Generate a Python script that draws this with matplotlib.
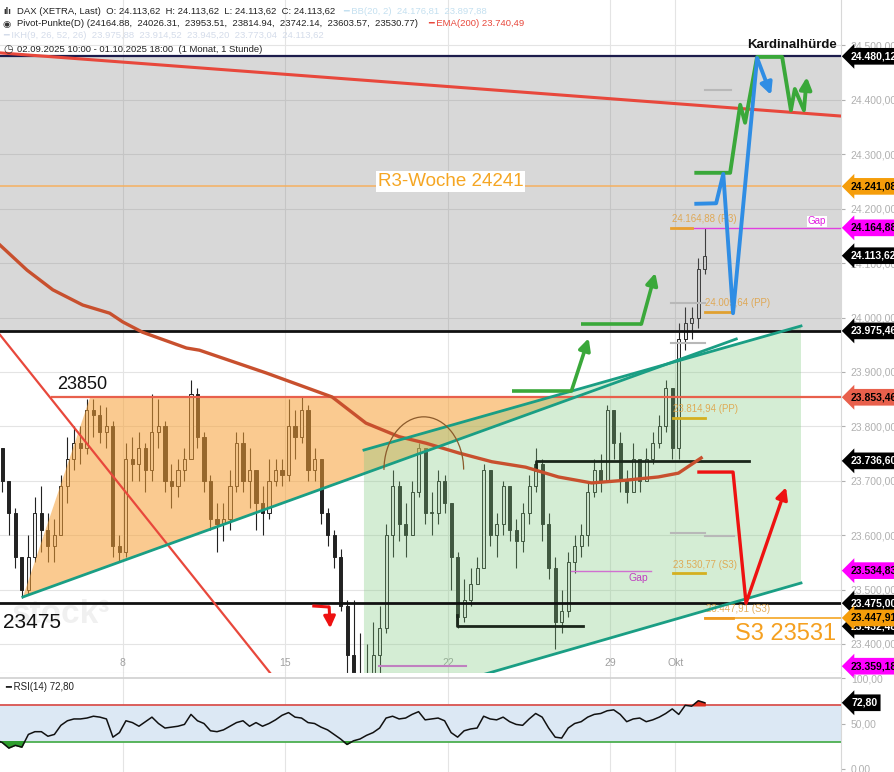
import matplotlib
matplotlib.use("Agg")
import matplotlib.pyplot as plt
import matplotlib.transforms as mtransforms
from matplotlib.patches import Polygon, Arc
from matplotlib.ticker import FuncFormatter

plt.rcParams['font.family'] = ['Liberation Sans', 'DejaVu Sans']

# x axis = trading days, 0 = Mon 8 Sep 2025; 5 bars per day starting Tue 2 Sep
first_day = -4
bars_per_day = 5
day_ticks = [0, 5, 10, 15, 17]
day_labels = ["8", "15", "22", "29", "Okt"]

close = [23760, 23700, 23640, 23560, 23500,  23560, 23640, 23610, 23580, 23600,
         23690, 23740, 23770, 23760, 23830,  23820, 23790, 23800, 23580, 23570,
         23740, 23730, 23760, 23720, 23790,  23800, 23700, 23690, 23720, 23740,
         23860, 23780, 23700, 23630, 23620,  23630, 23690, 23770, 23700, 23720,
         23660, 23640, 23700, 23720, 23710,  23800, 23780, 23830, 23720, 23740,
         23640, 23600, 23560, 23470, 23380,  23340, 23300, 23330, 23380, 23430,
         23600, 23690, 23620, 23600, 23680,  23760, 23640, 23640, 23700, 23660,
         23560, 23450, 23480, 23510, 23540,  23720, 23600, 23620, 23690, 23610,
         23590, 23640, 23690, 23730, 23620,  23540, 23440, 23460, 23550, 23580,
         23600, 23680, 23720, 23700, 23830,  23770, 23700, 23680, 23740, 23700,
         23740, 23770, 23800, 23870, 23760,  23960, 23990, 24000, 24090, 24113.62]
high = [23790, 23760, 23700, 23650, 23560,  23600, 23670, 23690, 23640, 23630,
        23710, 23780, 23800, 23800, 23850,  23850, 23840, 23835, 23810, 23600,
        23770, 23780, 23790, 23770, 23860,  23850, 23810, 23730, 23740, 23760,
        23885, 23870, 23790, 23710, 23660,  23660, 23720, 23790, 23790, 23760,
        23720, 23690, 23740, 23740, 23740,  23850, 23830, 23855, 23840, 23760,
        23720, 23650, 23610, 23575, 23480,  23480, 23420, 23400, 23440, 23470,
        23620, 23720, 23700, 23660, 23700,  23770, 23760, 23680, 23720, 23710,
        23600, 23570, 23520, 23540, 23560,  23730, 23720, 23640, 23700, 23690,
        23630, 23660, 23710, 23760, 23740,  23640, 23560, 23500, 23570, 23600,
        23620, 23700, 23740, 23750, 23840,  23820, 23790, 23720, 23770, 23740,
        23760, 23790, 23820, 23885, 23870,  23990, 24020, 24020, 24110, 24165]
low = [23740, 23680, 23600, 23540, 23485,  23490, 23550, 23570, 23550, 23550,
       23600, 23660, 23720, 23730, 23750,  23780, 23770, 23760, 23560, 23550,
       23560, 23700, 23700, 23680, 23700,  23760, 23680, 23650, 23670, 23700,
       23740, 23760, 23680, 23610, 23570,  23590, 23610, 23680, 23680, 23650,
       23610, 23600, 23630, 23690, 23690,  23700, 23740, 23770, 23700, 23700,
       23620, 23580, 23540, 23460, 23300,  23280, 23250, 23260, 23300, 23340,
       23420, 23560, 23590, 23560, 23600,  23670, 23620, 23600, 23620, 23640,
       23500, 23430, 23440, 23470, 23510,  23540, 23580, 23560, 23600, 23590,
       23540, 23570, 23620, 23680, 23590,  23520, 23390, 23420, 23450, 23530,
       23560, 23580, 23670, 23680, 23700,  23740, 23680, 23660, 23680, 23680,
       23700, 23730, 23760, 23790, 23740,  23740, 23940, 23960, 23980, 24080]
rsi = [32, 29, 23, 26, 24,  38, 41, 41, 36, 38,  48, 53, 55, 55, 56,  58, 57, 55, 35, 40,
       53, 51, 47, 52, 57,  50, 45, 46, 47, 49,  60, 53, 50, 42, 41,  43, 47, 51, 53, 47,
       51, 47, 50, 54, 59,  62, 57, 56, 51, 50,  46, 43, 38, 33, 27,  31, 33, 37, 40, 45,
       56, 58, 55, 56, 60,  63, 54, 55, 56, 53,  40, 35, 42, 44, 45,  58, 55, 54, 57, 52,
       49, 48, 55, 61, 57,  45, 35, 34, 45, 50,  52, 57, 60, 61, 64,  65, 60, 52, 55, 56,
       52, 54, 57, 61, 66,  60, 70, 69, 75, 72.8]

ema_days = [-3.77, -2.94, -2.15, -1.23, -0.40, 0.0, 0.61, 1.96, 2.36, 4.42, 5.43, 6.44,
            7.48, 8.50, 9.33, 10.34, 11.35, 12.39, 13.40, 14.42, 15.46, 16.47, 17.09, 17.79]
ema_vals = [24133, 24087, 24051, 24023, 24008, 23992, 23973, 23944, 23940, 23898, 23876, 23854,
            23806, 23781, 23769, 23751, 23735, 23725, 23707, 23696, 23701, 23707, 23714, 23742]

# right-hand price tags (drawn in this order)
tag_prices = [24480.12, 24241.08, 24164.88, 24113.62, 23975.46, 23853.46, 23736.60,
              23534.83, 23432.48, 23475.00, 23447.91, 23359.18]
tag_fill = ['black', '#f59d0a', '#ff00ff', 'black', 'black', '#e8604c', 'black',
            '#ff00ff', 'black', 'black', '#f59d0a', '#ff00ff']
tag_ink = ['white', 'black', 'black', 'white', 'white', 'black', 'white',
           'black', 'white', 'white', 'black', 'black']

price_ticks = [23400, 23500, 23600, 23700, 23800, 23900, 24000, 24100, 24200, 24300, 24400, 24500]


def de(v):
    return f"{v:,.2f}".replace(',', 'X').replace('.', ',').replace('X', '.')


W, H = 895, 772
fig = plt.figure(figsize=(W / 100, H / 100), dpi=100)
ax = fig.add_axes([0, 1 - 673 / H, 841 / W, 673 / H])
ax2 = fig.add_axes([0, 0, 841 / W, 99 / H])

xmin, xmax = -3.773, 22.09
ax.set_xlim(xmin, xmax)
ax.set_ylim(23346.7, 24583.6)

# grid
for p in price_ticks:
    ax.axhline(p, color='#e4e4e4', lw=0.8, zorder=0)
for d in day_ticks:
    ax.axvline(d, color='#e4e4e4', lw=0.8, zorder=0)
    ax2.axvline(d, color='#e4e4e4', lw=0.8, zorder=0)

# candles
n = len(close)
xs = [first_day + (i + 0.5) / bars_per_day for i in range(n)]
opens = [23790] + close[:-1]
for x, o, c, hi, lo in zip(xs, opens, close, high, low):
    ax.vlines(x, min(lo, o, c), max(hi, o, c), color='#222222', lw=0.8, zorder=2)
    body = max(abs(c - o), 3)
    ax.bar(x, body, bottom=min(o, c), width=0.095,
           color='#eeeeee' if c >= o else '#222222', edgecolor='#222222', lw=0.7, zorder=2)

# shaded zones
ax.fill_between([xmin, xmax], 23975.46, 24480.12, color='#808080', alpha=0.3, lw=0, zorder=2.5)
ax.add_patch(Polygon([(-3.07, 23486), (-1.01, 23852), (13.85, 23852)],
                     closed=True, color='#f7a035', alpha=0.55, lw=0, zorder=2.6))
ax.add_patch(Polygon([(7.42, 23756.5), (20.86, 23984.5), (20.86, 23512), (8.53, 23300), (7.42, 23300)],
                     closed=True, color='#7fc97f', alpha=0.33, lw=0, zorder=2.6))

ax.text(-3.4, 23455, "stock³", fontsize=24, fontweight='bold', color='#000000', alpha=0.06,
        va='center', zorder=2.7)

# horizontal levels
ax.axhline(24480.12, color='#1c1c4c', lw=1.6, zorder=4)
ax.axhline(24241.08, color='#f5b060', lw=1.1, zorder=4)
ax.axhline(23975.46, color='#111111', lw=2.0, zorder=4)
ax.axhline(23475.00, color='#111111', lw=2.0, zorder=4)
ax.plot([-2.18, xmax], [23853.46, 23853.46], color='#e8604c', lw=1.6, zorder=4)
ax.plot([17.09, xmax], [24164.88, 24164.88], color='#e040e0', lw=1.0, zorder=4)
ax.plot([17.91, xmax], [23447.91, 23447.91], color='#f5a623', lw=1.2, zorder=4)
ax.plot([12.70, 12.70, 19.26], [23720, 23736.6, 23736.6], color='#1a261a', lw=2.0, zorder=4)
ax.plot([10.28, 10.28, 14.17], [23453, 23432.5, 23432.5], color='#1a261a', lw=2.0, zorder=4)

# gap markers
ax.plot([13.80, 16.26], [23534.8, 23534.8], color='#d070d0', lw=1.0, zorder=4)
ax.text(15.86, 23521, "Gap", color='#c040c0', fontsize=7.5, ha='center', va='center', zorder=5)
ax.plot([7.88, 10.55], [23359.2, 23359.2], color='#c080c0', lw=1.5, zorder=4)
ax.text(21.35, 24177, "Gap", color='#e020e0', fontsize=7, ha='center', va='center', zorder=5,
        bbox=dict(facecolor='white', edgecolor='none', pad=0.5))

# pivot marks
pivot_segs = [((16.87, 17.50), 24164.88, '#e8a030'), ((17.91, 18.71), 24009.64, '#e0a030'),
              ((16.93, 17.91), 23814.94, '#d4b020'), ((16.93, 17.91), 23530.77, '#d4b020'),
              ((17.91, 18.77), 23447.91, '#f09a20')]
for (a, b), p, col in pivot_segs:
    ax.plot([a, b], [p, p], color=col, lw=2.0, zorder=4)
grey_segs = [((17.91, 18.71), 24418), ((16.87, 17.91), 24027), ((16.87, 17.91), 23953.5),
             ((16.87, 17.91), 23604), ((17.91, 18.8), 23598)]
for (a, b), p in grey_segs:
    ax.plot([a, b], [p, p], color='#b8b8b8', lw=1.5, zorder=3)
pivot_labels = [(16.90, 24181, "24.164,88 (R3)"), (17.91, 24026, "24.009,64 (PP)"),
                (16.93, 23832, "23.814,94 (PP)"), (16.93, 23545, "23.530,77 (S3)"),
                (17.94, 23464, "23.447,91 (S3)")]
for x, y, s in pivot_labels:
    ax.text(x, y, s, color='#e0a040', alpha=0.85, fontsize=7, va='center', zorder=4)

# trend lines
ax.plot([-3.77, 22.09], [24486.4, 24370.3], color='#e8483c', lw=2.2, zorder=4)
ax.plot([-3.77, 5.0], [23968, 23312], color='#e8483c', lw=1.6, zorder=4)
ax.plot(ema_days, ema_vals, color='#c8502e', lw=2.4, zorder=4)
ax.plot([-3.07, 18.87], [23486.4, 23960.6], color='#1a9e84', lw=2.0, zorder=4)
ax.plot([7.42, 20.86], [23756.5, 23984.5], color='#1a9e84', lw=2.0, zorder=4)
ax.plot([10.0, 20.86], [23325, 23512.1], color='#1a9e84', lw=2.0, zorder=4)
ax.add_patch(Arc((9.26, 23720), 2.45, 195, theta1=25, theta2=180, color='#8b5a2b', lw=0.9, zorder=4))


def arrow_path(xs_, ys_, color, lw):
    ax.plot(xs_[:-1], ys_[:-1], color=color, lw=lw, solid_capstyle='butt', zorder=6)
    ax.annotate("", xy=(xs_[-1], ys_[-1]), xytext=(xs_[-2], ys_[-2]), zorder=6,
                arrowprops=dict(arrowstyle='-|>,head_length=0.7,head_width=0.35',
                                color=color, lw=lw, shrinkA=0, shrinkB=0))


green = '#3aa83a'
arrow_path([11.96, 13.80, 14.33], [23865, 23865, 23962], green, 2.6)
arrow_path([14.08, 15.95, 16.38], [23988, 23988, 24082], green, 2.6)
arrow_path([17.58, 18.68, 18.99, 19.14, 19.51, 20.28, 20.55, 20.67, 20.95, 21.04],
           [24266, 24266, 24391, 24358, 24479, 24479, 24381, 24420, 24381, 24442], green, 2.8)
arrow_path([17.58, 18.25, 18.47, 18.77, 19.51, 19.94],
           [24209, 24210, 24264, 24008, 24477, 24409], '#2f8de4', 2.8)
arrow_path([17.67, 18.77, 19.17, 20.40], [23716, 23716, 23475, 23688], '#ee1111', 2.4)
arrow_path([5.83, 6.35, 6.38], [23470, 23468, 23429], '#ee1111', 2.2)

# annotations
ax.text(-2.02, 23861, "23850", fontsize=13, color='#111111', va='bottom', zorder=5)
ax.text(-3.68, 23440, "23475", fontsize=15, color='#111111', va='center', zorder=5)
ax.text(21.93, 23418, "S3 23531", fontsize=17, color='#f5a020', ha='right', va='center', zorder=7)
ax.text(7.84, 24250, "R3-Woche 24241", fontsize=13.5, color='#f5a623', va='center', zorder=5,
        bbox=dict(facecolor='white', edgecolor='none', pad=1.5))
ax.text(21.95, 24490, "Kardinalhürde", fontsize=9.5, fontweight='bold', color='#111111',
        ha='right', va='bottom', zorder=7)

# axes styling
ax.yaxis.tick_right()
ax.set_yticks(price_ticks)
ax.yaxis.set_major_formatter(FuncFormatter(lambda v, _: de(v)))
ax.tick_params(axis='y', colors='#b0b0b0', labelsize=7.5, length=3, pad=4)
ax.set_xticks(day_ticks)
ax.set_xticklabels(day_labels)
ax.tick_params(axis='x', colors='#a0a0a0', labelsize=7.5, length=0, pad=-11)
for s in ['top', 'left']:
    ax.spines[s].set_visible(False)
ax.spines['right'].set_color('#d8d8d8')
ax.spines['bottom'].set_color('#d0d0d0')

tr = mtransforms.blended_transform_factory(ax.transAxes, ax.transData)
for k, (p, fc, tc) in enumerate(zip(tag_prices, tag_fill, tag_ink)):
    ax.text(1.012, p, de(p), transform=tr, fontsize=7.5, fontweight='bold', color=tc,
            va='center', ha='left', clip_on=False, zorder=10 + k,
            bbox=dict(boxstyle='larrow,pad=0.32', facecolor=fc, edgecolor='none'))

# RSI panel
ax2.set_xlim(xmin, xmax)
ax2.set_ylim(-3.3, 105.5)
ax2.axhspan(30, 70, color='#dce8f4', lw=0, zorder=0.5)
ax2.axhline(100, color='#d0d0d0', lw=1.2)
ax2.axhline(70, color='#d9534f', lw=1.3, zorder=3)
ax2.axhline(30, color='#4caf50', lw=1.3, zorder=3)
ax2.plot(xs, rsi, color='#111111', lw=1.1, zorder=4)
ax2.fill_between(xs, rsi, 70, where=[r > 70 for r in rsi], interpolate=True, color='#e03020', zorder=3.5)
ax2.fill_between(xs, rsi, 30, where=[r < 30 for r in rsi], interpolate=True, color='#2e9e2e', zorder=3.5)
ax2.yaxis.tick_right()
ax2.set_yticks([0, 50, 100])
ax2.set_yticklabels(["0,00", "50,00", "100,00"])
ax2.tick_params(axis='y', colors='#b0b0b0', labelsize=7.5, length=3, pad=4)
ax2.set_xticks([])
for s in ['top', 'left', 'bottom']:
    ax2.spines[s].set_visible(False)
ax2.spines['right'].set_color('#d8d8d8')
tr2 = mtransforms.blended_transform_factory(ax2.transAxes, ax2.transData)
ax2.text(1.012, 72.8, "72,80", transform=tr2, fontsize=7.5, fontweight='bold', color='white',
         va='center', ha='left', clip_on=False, zorder=10,
         bbox=dict(boxstyle='larrow,pad=0.32', facecolor='black', edgecolor='none'))
ax2.text(0.006, 0.86, "━ RSI(14) 72,80", transform=ax2.transAxes, fontsize=7, color='#222222', va='center')

# header lines
hdr = 6.8
fig.text(3 / W, 1 - 11 / H, "ılı", fontsize=hdr, fontweight='bold', color='#333333', va='center')
fig.text(17 / W, 1 - 11 / H, "DAX (XETRA, Last)  O: 24.113,62  H: 24.113,62  L: 24.113,62  C: 24.113,62",
         fontsize=hdr, color='#222222', va='center')
fig.text(343 / W, 1 - 11 / H, "━ BB(20, 2)  24.176,81  23.897,88", fontsize=hdr, color='#c4e0f0', va='center')
fig.text(3 / W, 1 - 24 / H, "◉", fontsize=hdr, color='#333333', va='center')
fig.text(17 / W, 1 - 24 / H,
         "Pivot-Punkte(D) (24164.88,  24026.31,  23953.51,  23814.94,  23742.14,  23603.57,  23530.77)",
         fontsize=hdr, color='#222222', va='center')
fig.text(428 / W, 1 - 24 / H, "━ EMA(200) 23.740,49", fontsize=hdr, color='#e8483c', va='center')
fig.text(3 / W, 1 - 36 / H, "━ IKH(9, 26, 52, 26)  23.975,88  23.914,52  23.945,20  23.773,04  24.113,62",
         fontsize=hdr, color='#d4dcea', va='center')
fig.text(3 / W, 1 - 49 / H, "◷", fontsize=hdr + 1, color='#333333', va='center')
fig.text(17 / W, 1 - 49 / H, "02.09.2025 10:00 - 01.10.2025 18:00  (1 Monat, 1 Stunde)",
         fontsize=hdr, color='#222222', va='center')

fig.savefig("out.png", dpi=100)
